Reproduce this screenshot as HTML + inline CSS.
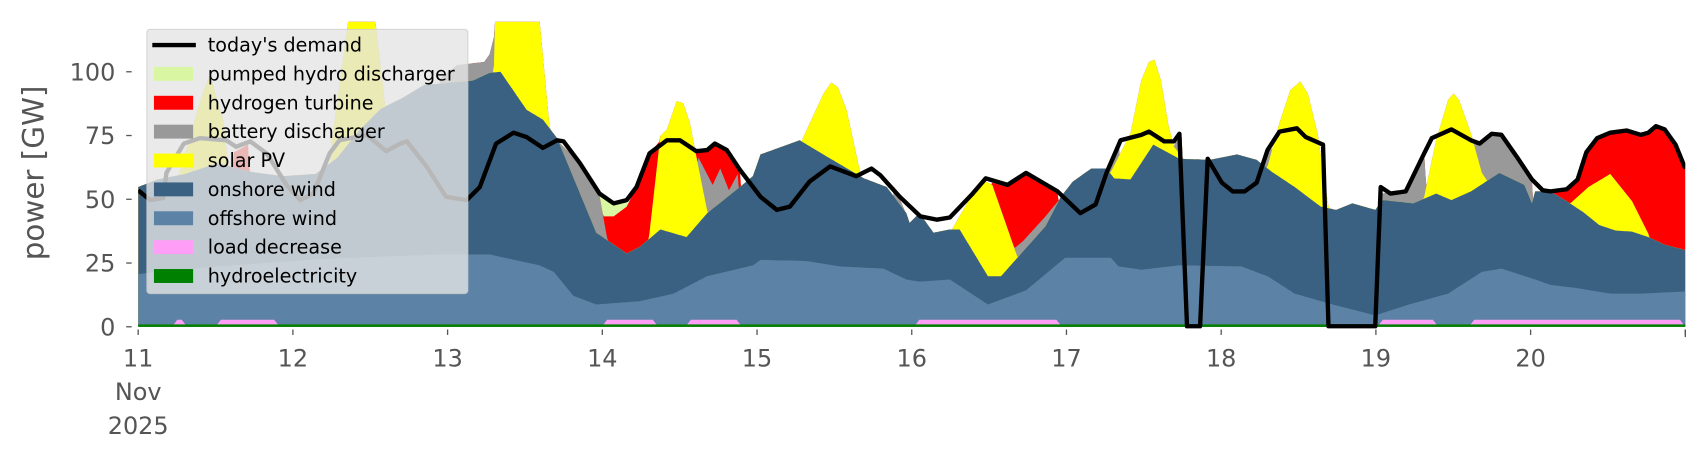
<!DOCTYPE html>
<html><head><meta charset="utf-8"><style>
html,body{margin:0;padding:0;background:#fff;}
svg{display:block;}
text{font-family:"DejaVu Sans","Liberation Sans",sans-serif;}
</style></head><body>
<svg id="s" width="1706" height="460" viewBox="0 0 1568 423" preserveAspectRatio="none" xmlns="http://www.w3.org/2000/svg">
<defs><clipPath id="c"><rect x="127" y="20" width="1422" height="283"/></clipPath></defs>
<g id="areas" clip-path="url(#c)"></g>
<g id="axes" fill="#555" font-size="22"></g>
<text x="0" y="0" font-size="27" fill="#555" text-anchor="middle" transform="translate(40,159) rotate(-90)">power [GW]</text>
<g id="leg">
<rect x="135" y="27" width="295" height="243" rx="3" fill="#e5e5e5" fill-opacity="0.8" stroke="#cccccc" stroke-opacity="0.8"/>
</g>
</svg>
<script>
const NS="http://www.w3.org/2000/svg";
function P(s){const a=s.trim().split(/[\s,]+/).map(Number);const r=[];for(let i=0;i<a.length;i+=2)r.push([a[i],a[i+1]]);r.sort((p,q)=>p[0]-q[0]);return r;}
const off=P(`127 252 200 245 300 238 404 234 450 234 496 244 509 250 527 272 548 280 588 277 619 270 650 254 692 244 699 239 741 240 772 245 812 247 833 257 845 259 873 257 908 280 943 267 979 237 1021 237 1028 245 1049 248 1084 244 1141 245 1165 254 1190 270 1225 280 1264 290 1295 280 1331 270 1362 250 1380 247 1411 257 1425 262 1450 265 1480 270 1510 270 1549 268`);
const on=P(`127 172 145 165 170 160 200 150 230 158 260 162 290 160 310 145 330 120 350 100 370 90 390 78 404 77 435 74 450 67 460 66 484 101 499 110 512 127 548 214 576 233 588 227 607 211 631 218 650 196 680 172 692 162 699 142 735 129 760 144 794 164 815 172 833 196 836 205 845 196 858 214 873 211 882 211 908 254 920 254 936 236 961 208 975 181 986 167 1003 155 1017 155 1024 164 1039 165 1060 133 1084 146 1112 147 1137 142 1155 147 1169 158 1190 172 1214 190 1228 193 1243 187 1264 193 1271 184 1299 187 1320 178 1334 184 1352 176 1378 159 1401 170 1408 187 1411 176 1425 176 1440 185 1455 195 1470 207 1485 212 1500 213 1515 218 1530 225 1549 230`);
const sol=P(`150 300 165 160 185 90 193 69 205 110 215 200 225 300 295 300 305 130 320 20 345 20 360 150 370 300 448 300 455 20 496 20 505 116 515 300 594 300 597 214 607 125 613 119 622 93 628 95 634 113 640 144 650 194 660 300 730 300 738 127 757 86 764 76 770 80 778 101 790 156 800 300 868 300 875 211 890 185 906 167 912 170 935 236 945 300 1012 300 1020 160 1039 123 1049 74 1056 57 1061 55 1067 74 1074 116 1079 135 1084 141 1092 300 1158 300 1165 153 1176 113 1186 83 1195 75 1202 86 1211 123 1221 190 1228 300 1302 300 1309 181 1320 129 1331 92 1336 86 1341 92 1352 123 1362 159 1366 165 1375 300 1432 300 1440 190 1460 172 1480 160 1500 185 1515 215 1525 300`);
const bat=P(`398 300 405 72 420 60 445 57 450 50 455 30 462 300 505 300 512 129 533 150 551 180 560 230 576 236 590 228 597 300 636 300 642 145 655 170 662 155 670 175 678 160 686 300 816 300 822 172 830 190 836 205 842 300 912 300 918 240 940 222 960 200 975 182 982 300 1012 300 1020 155 1028 128 1036 300 1078 300 1080 132 1086 126 1090 300 1156 300 1162 150 1168 135 1178 300 1266 300 1270 178 1292 176 1309 141 1318 300 1348 300 1352 129 1360 132 1371 123 1380 124 1394 144 1408 166 1414 300`);
const h2=P(`208 300 215 140 228 133 236 300 544 300 548 190 551 199 564 199 576 190 585 172 597 141 607 129 612 300 636 300 640 139 650 138 657 132 668 138 680 156 688 300 908 300 912 168 926 172 943 160 972 178 978 300 1422 300 1426 178 1440 174 1450 165 1458 140 1468 127 1480 122 1495 120 1508 124 1515 122 1522 116 1530 119 1540 133 1549 155`);
const ph=P(`544 300 548 183 551 180 564 188 576 186 580 300`);
const dem=P(`127 175 138 184 150 182 153 159 169 132 184 127 208 129 217 135 230 130 245 141 264 171 276 184 288 178 303 141 312 129 337 124 355 139 368 132 374 130 392 153 410 181 429 184 441 172 456 132 472 122 484 126 499 136 512 129 518 130 533 150 551 178 564 187 576 184 585 172 597 141 613 129 625 129 640 139 650 138 657 132 668 138 680 156 699 181 714 193 726 190 744 167 763 153 787 162 801 155 809 161 827 181 846 199 861 202 873 200 894 178 906 164 926 170 943 159 972 176 993 196 1007 188 1017 159 1030 129 1049 124 1056 121 1070 130 1079 130 1084 123 1091 300 1103 300 1110 146 1123 168 1133 176 1144 176 1155 168 1165 138 1176 121 1192 118 1200 126 1216 133 1221 300 1264 300 1269 172 1278 178 1292 176 1309 141 1316 127 1334 119 1352 129 1360 132 1371 123 1380 124 1394 144 1408 165 1418 175 1425 176 1440 174 1450 165 1458 140 1468 127 1480 122 1495 120 1508 124 1515 122 1522 116 1530 119 1540 133 1549 155`);
function f(pts,x){if(x<=pts[0][0])return pts[0][1];for(let i=1;i<pts.length;i++){if(x<=pts[i][0]){const a=pts[i-1],b=pts[i];const t=(x-a[0])/((b[0]-a[0])||1);return a[1]+t*(b[1]-a[1]);}}return pts[pts.length-1][1];}
const X0=127,X1=1549,B=300.5;
const xs=[];for(let x=X0;x<=X1;x+=1)xs.push(x);
const tOff=xs.map(x=>f(off,x));
const tOn=xs.map((x,i)=>Math.min(f(on,x),tOff[i]));
const tSol=xs.map((x,i)=>Math.min(f(sol,x),tOn[i]));
const tBat=xs.map((x,i)=>Math.min(f(bat,x),tSol[i]));
const tH2=xs.map((x,i)=>Math.min(f(h2,x),tBat[i]));
const tPh=xs.map((x,i)=>Math.min(f(ph,x),tH2[i]));
const g=document.getElementById('areas');
function poly(top,col){let d='M'+X0+' '+B;xs.forEach((x,i)=>{d+=' L'+x+' '+top[i].toFixed(1);});d+=' L'+X1+' '+B+' Z';const p=document.createElementNS(NS,'path');p.setAttribute('d',d);p.setAttribute('fill',col);g.appendChild(p);}
poly(tPh,'#d9f7a3');poly(tH2,'#ff0000');poly(tBat,'#999999');poly(tSol,'#ffff00');poly(tOn,'#3b6182');poly(tOff,'#5c82a5');
const pinkR=[[158,172],[198,257],[553,605],[630,682],[840,976],[1266,1322],[1350,1549]];
pinkR.forEach(r=>{const p=document.createElementNS(NS,'path');p.setAttribute('d',`M${r[0]} ${B} L${r[0]+5} 294 L${r[1]-5} 294 L${r[1]} ${B} Z`);p.setAttribute('fill','#ff9ef7');g.appendChild(p);});
const gr=document.createElementNS(NS,'rect');gr.setAttribute('x',X0);gr.setAttribute('y',298.3);gr.setAttribute('width',X1-X0);gr.setAttribute('height',2.3);gr.setAttribute('fill','#008000');g.appendChild(gr);
const pl=document.createElementNS(NS,'polyline');pl.setAttribute('points',dem.map(p=>p.join(',')).join(' '));pl.setAttribute('fill','none');pl.setAttribute('stroke','#000');pl.setAttribute('stroke-width','4');pl.setAttribute('stroke-linejoin','round');g.appendChild(pl);
const ax=document.getElementById('axes');
function el(tag,attrs,txt){const e=document.createElementNS(NS,tag);for(const k in attrs)e.setAttribute(k,attrs[k]);if(txt!==undefined)e.textContent=txt;ax.appendChild(e);return e;}
[0,25,50,75,100].forEach(v=>{const y=300.5-2.345*v;el('line',{x1:116,x2:121,y1:y,y2:y,stroke:'#555','stroke-width':1.2});el('text',{x:106,y:y+8,'text-anchor':'end'},String(v));});
for(let d=11;d<=21;d++){const x=127+142.2*(d-11);if(x>1550)break;el('line',{x1:x,x2:x,y1:303,y2:308,stroke:'#555','stroke-width':1.2});if(d<=20)el('text',{x:x,y:337,'text-anchor':'middle'},String(d));}
el('line',{x1:1549,x2:1549,y1:303,y2:310,stroke:'#555','stroke-width':1.2});
el('text',{x:127,y:368,'text-anchor':'middle'},'Nov');
el('text',{x:127,y:399,'text-anchor':'middle'},'2025');
const lg=document.getElementById('leg');
const items=[['line','#000',"today's demand"],['p','#d9f7a3','pumped hydro discharger'],['p','#ff0000','hydrogen turbine'],['p','#999999','battery discharger'],['p','#ffff00','solar PV'],['p','#3b6182','onshore wind'],['p','#5c82a5','offshore wind'],['p','#ff9ef7','load decrease'],['p','#008000','hydroelectricity']];
items.forEach((it,k)=>{const cy=41.4+26.55*k;let e;
if(it[0]==='line'){e=document.createElementNS(NS,'line');e.setAttribute('x1',140);e.setAttribute('x2',180);e.setAttribute('y1',cy);e.setAttribute('y2',cy);e.setAttribute('stroke','#000');e.setAttribute('stroke-width',4);}
else{e=document.createElementNS(NS,'rect');e.setAttribute('x',141.5);e.setAttribute('y',cy-6.4);e.setAttribute('width',36);e.setAttribute('height',12.8);e.setAttribute('fill',it[1]);}
lg.appendChild(e);
const t=document.createElementNS(NS,'text');t.setAttribute('x',191);t.setAttribute('y',cy+6);t.setAttribute('font-size','17.6');t.setAttribute('fill','#000');t.textContent=it[2];lg.appendChild(t);});
</script>
</body></html>
